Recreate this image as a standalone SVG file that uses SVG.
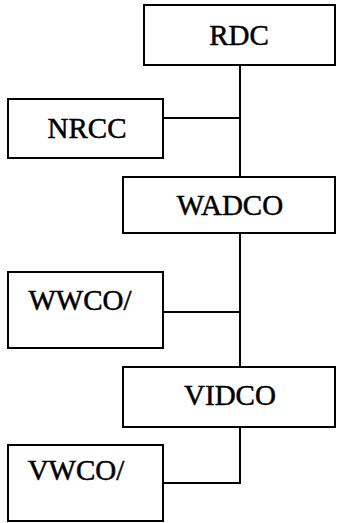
<svg xmlns="http://www.w3.org/2000/svg" width="337" height="523" viewBox="0 0 337 523">
<style>
.box{fill:#fff;stroke:#000;stroke-width:2}
.lbl{font-family:"Liberation Serif","Times New Roman",serif;font-size:29px;fill:#000;stroke:#000;stroke-width:0.5}
.c{text-anchor:middle}
.conn{fill:none;stroke:#000;stroke-width:2}
</style>
<rect width="337" height="523" fill="#fff"/>
<g id="connectors">
<path class="conn" d="M240 65V177"/>
<path class="conn" d="M163 118H240"/>
<path class="conn" d="M240 233V367"/>
<path class="conn" d="M163 312H240"/>
<path class="conn" d="M240 427V483H163"/>
</g>
<g id="RDC"><rect class="box" x="144" y="5" width="191" height="60"/><text class="lbl c" x="239" y="45">RDC</text></g>
<g id="NRCC"><rect class="box" x="8" y="99" width="155" height="59"/><text class="lbl c" x="87" y="138">NRCC</text></g>
<g id="WADCO"><rect class="box" x="123" y="177" width="212" height="56"/><text class="lbl c" x="230" y="215">WADCO</text></g>
<g id="WWCO"><rect class="box" x="8" y="272" width="155" height="76"/><text class="lbl c" x="80" y="310">WWCO/</text></g>
<g id="VIDCO"><rect class="box" x="123" y="367" width="212" height="60"/><text class="lbl c" x="230" y="405">VIDCO</text></g>
<g id="VWCO"><rect class="box" x="8" y="445" width="155" height="76"/><text class="lbl c" x="76" y="480">VWCO/</text></g>
</svg>
